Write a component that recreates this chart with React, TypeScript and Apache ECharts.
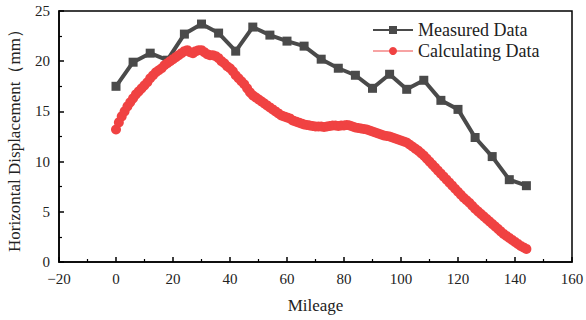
import React, { useEffect, useRef } from "react";
import * as echarts from "echarts";

const measuredX = [0, 6, 12, 18, 24, 30, 36, 42, 48, 54, 60, 66, 72, 78, 84, 90, 96, 102, 108, 114, 120, 126, 132, 138, 144];
const measuredY = [17.5, 19.9, 20.8, 20.1, 22.7, 23.7, 22.8, 21.0, 23.4, 22.6, 22.0, 21.5, 20.2, 19.3, 18.6, 17.3, 18.7, 17.2, 18.1, 16.1, 15.2, 12.4, 10.5, 8.2, 7.6];

// Calculating data sampled every 1 unit of mileage, starting at 0
const calcStart = 0;
const calcStep = 1;
const calcY = [
  13.2, 13.9, 14.5, 15.0, 15.5, 15.9, 16.3, 16.7, 17.0, 17.3,
  17.6, 17.9, 18.3, 18.6, 18.9, 19.1, 19.3, 19.6, 19.8, 20.0,
  20.2, 20.4, 20.6, 20.8, 21.0, 21.1, 20.9, 20.8, 21.0, 21.1,
  21.1, 20.9, 20.7, 20.6, 20.6, 20.5, 20.3, 20.0, 19.8, 19.5,
  19.3, 19.0, 18.6, 18.3, 18.0, 17.7, 17.3, 16.9, 16.6, 16.4,
  16.2, 16.0, 15.8, 15.6, 15.4, 15.2, 15.0, 14.8, 14.6, 14.5,
  14.4, 14.3, 14.1, 14.0, 13.9, 13.8, 13.7, 13.65, 13.6, 13.55,
  13.5, 13.5, 13.5, 13.45, 13.5, 13.55, 13.6, 13.6, 13.55, 13.6,
  13.6, 13.65, 13.6, 13.5, 13.4, 13.35, 13.3, 13.25, 13.2, 13.1,
  13.0, 12.9, 12.8, 12.7, 12.6, 12.55, 12.5, 12.4, 12.3, 12.2,
  12.1, 12.0, 11.9, 11.7, 11.5, 11.3, 11.1, 10.85, 10.6, 10.3,
  10.0, 9.7, 9.4, 9.1, 8.8, 8.5, 8.2, 7.9, 7.6, 7.3,
  7.0, 6.7, 6.4, 6.15, 5.9, 5.6, 5.3, 5.05, 4.8, 4.55,
  4.3, 4.05, 3.8, 3.55, 3.3, 3.05, 2.8, 2.6, 2.4, 2.2,
  2.0, 1.8, 1.6, 1.45, 1.3,
];

const xTitle = "Mileage";
const yTitle = "Horizontal Displacement（mm）";
const seriesNames = ["Measured Data", "Calculating Data"];

const FONT = "Liberation Serif";

const fmt = (v: number) => String(v).replace("-", "\u2212");

export default function App() {
  const ref = useRef<HTMLDivElement>(null);
  useEffect(() => {
    if (!ref.current) return;
    const chart = echarts.init(ref.current, null, { renderer: "svg" });
    const axisCommon = {
      axisLine: { show: true, onZero: false, lineStyle: { color: "#000", width: 1.5 } },
      axisTick: { show: true, inside: true, length: 5, lineStyle: { color: "#000", width: 1.5 } },
      minorTick: { show: true, splitNumber: 2, length: 3, lineStyle: { color: "#000", width: 1.2 } },
      splitLine: { show: false },
      axisLabel: { color: "#222", fontFamily: FONT, fontSize: 15, margin: 9, formatter: fmt },
      nameTextStyle: { color: "#222", fontFamily: FONT, fontSize: 17 },
    };
    chart.setOption({
      animation: false,
      backgroundColor: "#fff",
      textStyle: { fontFamily: FONT },
      grid: {
        left: 59,
        right: 14,
        top: 11,
        bottom: 58,
        show: true,
        borderColor: "#000",
        borderWidth: 1.5,
        containLabel: false,
        outerBoundsMode: "none",
      },
      legend: {
        orient: "vertical",
        left: 367,
        top: 16,
        itemWidth: 40,
        itemHeight: 10,
        itemGap: 3,
        textStyle: { color: "#222", fontFamily: FONT, fontSize: 18 },
        data: seriesNames,
      },
      xAxis: {
        ...axisCommon,
        type: "value",
        min: -20,
        max: 160,
        interval: 20,
        name: xTitle,
        nameLocation: "middle",
        nameGap: 35,
      },
      yAxis: {
        ...axisCommon,
        type: "value",
        min: 0,
        max: 25,
        interval: 5,
        name: yTitle,
        nameLocation: "middle",
        nameGap: 36,
      },
      series: [
        {
          name: seriesNames[0],
          type: "line",
          data: measuredX.map((x, i) => [x, measuredY[i]]),
          symbol: "rect",
          symbolSize: 9,
          itemStyle: { color: "#4a4a4a" },
          lineStyle: { color: "#4a4a4a", width: 4 },
          z: 2,
        },
        {
          name: seriesNames[1],
          type: "line",
          data: calcY.map((y, i) => [calcStart + i * calcStep, y]),
          symbol: "circle",
          symbolSize: 10,
          itemStyle: { color: "#f04242", borderWidth: 0 },
          lineStyle: { color: "#f7a3a3", width: 1 },
          z: 3,
        },
      ],
    });
    return () => chart.dispose();
  }, []);
  return <div ref={ref} style={{ width: 586, height: 320, position: "absolute", left: 0, top: 0 }} />;
}
